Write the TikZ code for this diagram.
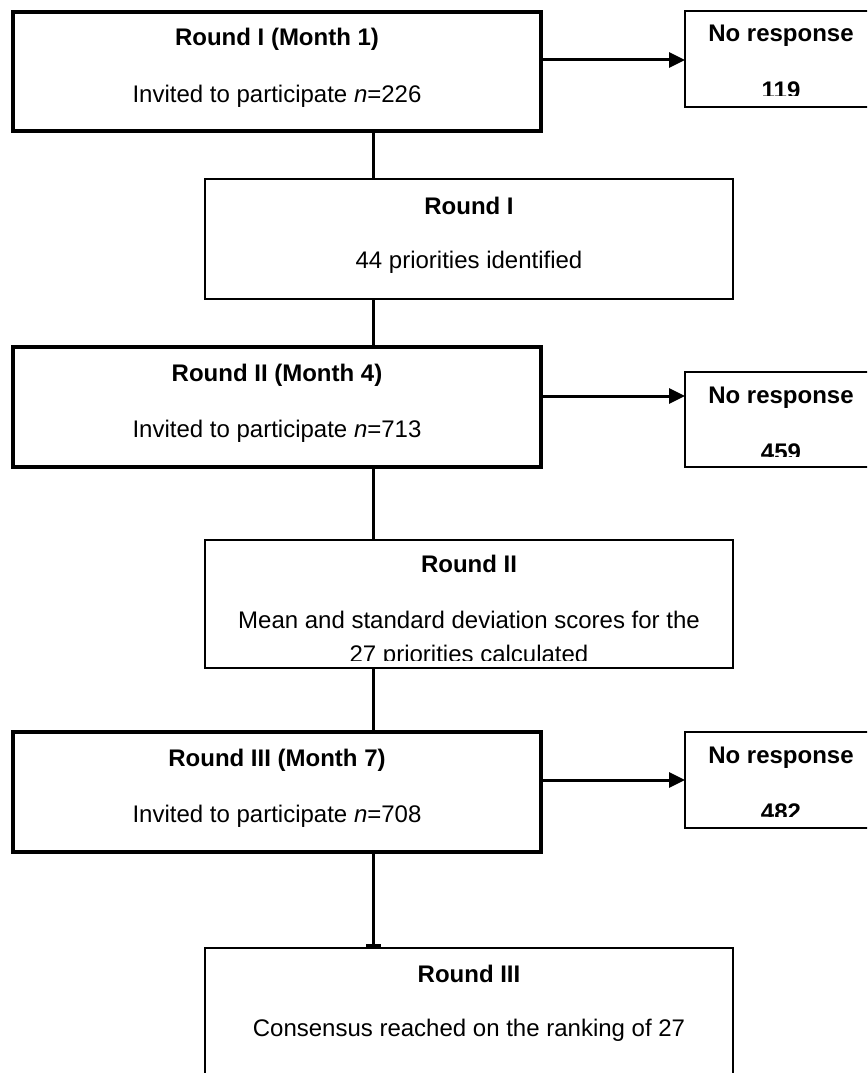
\documentclass[tikz,border=0pt]{standalone}
\usepackage{fontspec}
\setmainfont{Liberation Sans}
\usetikzlibrary{arrows.meta}
\begin{document}
\begin{tikzpicture}[x=1pt,y=-1pt,
  box/.style={draw, inner sep=0pt, outer sep=0pt, anchor=north west, minimum width=528pt},
  thickbox/.style={box, line width=4pt},
  thinbox/.style={box, line width=1.8pt},
  nrbox/.style={draw, line width=1.8pt, inner sep=0pt, outer sep=0pt, anchor=north west, minimum width=192pt, minimum height=96pt},
  txt/.style={inner sep=0pt, outer sep=0pt, anchor=base, font=\fontsize{24}{29}\selectfont},
  btxt/.style={txt, font=\fontsize{24}{29}\selectfont\bfseries},
  vline/.style={line width=3pt},
  harrow/.style={line width=3pt, -{Triangle[length=16pt,width=15pt]}},
  tee/.style={line width=3pt, -{Bar[width=15pt]}}
]
\useasboundingbox (0,0) rectangle (867,1073);
\clip (0,0) rectangle (867,1073);

% spine coordinate
\coordinate (spine) at (373,0);

% main boxes
\node[thickbox, minimum height=119pt] (b1) at (13,12) {};
\node[thinbox, minimum height=120pt] (b2) at (205,179) {};
\node[thickbox, minimum height=120pt] (b3) at (13,347) {};
\node[thinbox, minimum height=128pt] (b4) at (205,540) {};
\node[thickbox, minimum height=120pt] (b5) at (13,732) {};
\node[thinbox, minimum height=150pt] (b6) at (205,948) {};

% no-response boxes
\node[nrbox] (nr1) at (685,11) {};
\node[nrbox, minimum height=95pt] (nr2) at (685,372) {};
\node[nrbox] (nr3) at (685,732) {};

% texts in main boxes
\node[btxt] (t1a) at (277,46) {Round I (Month 1)};
\node[txt] (t1b) at (277,102) {Invited to participate \textit{n}=226};
\node[btxt] (t2a) at (469,214) {Round I};
\node[txt] (t2b) at (469,268) {44 priorities identified};
\node[btxt] (t3a) at (277,381) {Round II (Month 4)};
\node[txt] (t3b) at (277,437) {Invited to participate \textit{n}=713};
\node[btxt] (t4a) at (469,572) {Round II};
\node[txt] (t4b) at (469,628) {Mean and standard deviation scores for the};
\begin{scope}
  \clip (205,600) rectangle (733,660);
  \node[txt] (t4c) at (469,662) {27 priorities calculated};
\end{scope}
\node[btxt] (t5a) at (277,766) {Round III (Month 7)};
\node[txt] (t5b) at (277,822) {Invited to participate \textit{n}=708};
\node[btxt] (t6a) at (469,982) {Round III};
\node[txt] (t6b) at (469,1036) {Consensus reached on the ranking of 27};

% texts in no-response boxes
\node[btxt] (n1a) at (781,42) {No response};
\begin{scope}
  \clip (685,60) rectangle (877,95);
  \node[btxt] (n1b) at (781,99) {119};
\end{scope}
\node[btxt] (n2a) at (781,403) {No response};
\begin{scope}
  \clip (685,420) rectangle (877,456);
  \node[btxt] (n2b) at (781,460) {459};
\end{scope}
\node[btxt] (n3a) at (781,763) {No response};
\begin{scope}
  \clip (685,780) rectangle (877,816);
  \node[btxt] (n3b) at (781,820) {482};
\end{scope}

% arrow heights
\coordinate (a1) at (0,60);
\coordinate (a2) at (0,396);
\coordinate (a3) at (0,780);

% horizontal arrows
\draw[harrow] (b1.east |- a1) -- (nr1.west |- a1);
\draw[harrow] (b3.east |- a2) -- (nr2.west |- a2);
\draw[harrow] (b5.east |- a3) -- (nr3.west |- a3);

% vertical connectors
\draw[vline] (b1.south -| spine) -- (b2.north -| spine);
\draw[vline] (b2.south -| spine) -- (b3.north -| spine);
\draw[vline] (b3.south -| spine) -- (b4.north -| spine);
\draw[vline] (b4.south -| spine) -- (b5.north -| spine);
\draw[tee] (b5.south -| spine) -- ([yshift=1.5pt]b6.north -| spine);
\end{tikzpicture}
\end{document}
